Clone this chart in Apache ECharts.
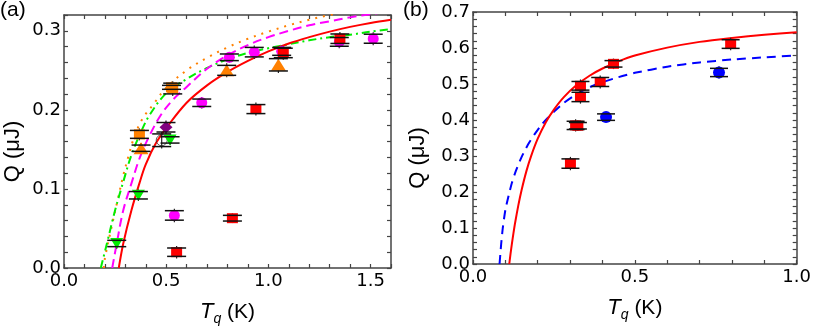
<!DOCTYPE html>
<html>
<head>
<meta charset="utf-8">
<script src="https://cdn.jsdelivr.net/npm/echarts@6/dist/echarts.min.js"></script>
<style>
html,body{margin:0;padding:0;background:#fff;}
#chart{width:814px;height:331px;}
</style>
</head>
<body>
<div id="chart"></div>
<script>
// ---------- Panel (a) data ----------
const redA_T = [1.350, 1.073, 0.939, 0.824, 0.551];
const redA_Q = [0.290, 0.272, 0.201, 0.063, 0.020];
const redA_E = [0.006, 0.006, 0.0057, 0.0036, 0.0053];

const magA_T = [1.513, 1.347, 1.065, 0.931, 0.809, 0.674, 0.540];
const magA_Q = [0.290, 0.286, 0.274, 0.273, 0.2665, 0.209, 0.0665];
const magA_E = [0.0057, 0.0055, 0.005, 0.006, 0.0042, 0.0047, 0.006];

const oTriA_T = [1.049, 0.796, 0.377];
const oTriA_Q = [0.257, 0.250, 0.1515];
const oTriA_E = [0.0078, 0.0063, 0.004];

const oSqA_T = [0.532, 0.526, 0.369];
const oSqA_Q = [0.227, 0.2285, 0.169];
const oSqA_E = [0.0068, 0.0025, 0.005];

const purA_T = [0.499];
const purA_Q = [0.178];
const purA_E = [0.006];

const openA_T = [0.478];
const openA_Q = [0.1616];
const openA_E = [0.008];

const grnA_T = [0.519, 0.364, 0.258];
const grnA_Q = [0.162, 0.092, 0.031];
const grnA_E = [0.004, 0.0047, 0.004];

// curves
const cRedA_T = [0.268, 0.29, 0.33, 0.37, 0.40, 0.45, 0.50, 0.60, 0.70, 0.80, 0.90, 1.00, 1.10, 1.20, 1.30, 1.40, 1.50, 1.60];
const cRedA_Q = [0.000, 0.031, 0.073, 0.108, 0.131, 0.158, 0.177, 0.209, 0.231, 0.248, 0.262, 0.274, 0.284, 0.292, 0.299, 0.305, 0.310, 0.314];

const cGrnA_T = [0.180, 0.21, 0.25, 0.29, 0.33, 0.38, 0.42, 0.50, 0.60, 0.70, 0.80, 0.90, 1.00, 1.10, 1.20, 1.30, 1.40, 1.50, 1.60];
const cGrnA_Q = [0.000, 0.031, 0.073, 0.109, 0.143, 0.174, 0.194, 0.221, 0.239, 0.253, 0.264, 0.272, 0.278, 0.283, 0.288, 0.292, 0.295, 0.299, 0.302];

const cOrgA_T = [0.195, 0.20, 0.233, 0.266, 0.29, 0.315, 0.34, 0.38, 0.44, 0.50, 0.60, 0.70, 0.80, 0.90, 1.00, 1.10, 1.20, 1.30, 1.40, 1.50, 1.60];
const cOrgA_Q = [0.000, 0.012, 0.052, 0.090, 0.117, 0.141, 0.163, 0.187, 0.208, 0.228, 0.250, 0.266, 0.279, 0.290, 0.299, 0.307, 0.314, 0.320, 0.325, 0.330, 0.334];

const cMagA_T = [0.236, 0.258, 0.29, 0.33, 0.37, 0.41, 0.47, 0.53, 0.60, 0.70, 0.80, 0.90, 1.00, 1.10, 1.20, 1.30, 1.40, 1.50, 1.60];
const cMagA_Q = [0.000, 0.031, 0.073, 0.107, 0.139, 0.163, 0.192, 0.212, 0.229, 0.252, 0.269, 0.282, 0.292, 0.300, 0.307, 0.312, 0.317, 0.321, 0.325];

// ---------- Panel (b) data ----------
const redB_T = [0.796, 0.434, 0.393, 0.332, 0.332, 0.317, 0.324, 0.301];
const redB_Q = [0.611, 0.556, 0.5056, 0.495, 0.464, 0.385, 0.384, 0.279];
const redB_E = [0.012, 0.009, 0.0125, 0.012, 0.013, 0.0115, 0.009, 0.013];

const bluB_T = [0.411, 0.760];
const bluB_Q = [0.408, 0.532];
const bluB_E = [0.009, 0.0115];

const cRedB_T = [0.112, 0.116, 0.120, 0.125, 0.130, 0.140, 0.150, 0.165, 0.180, 0.200, 0.225, 0.250, 0.280, 0.320, 0.360, 0.400, 0.450, 0.500, 0.600, 0.700, 0.800, 0.900, 1.000];
const cRedB_Q = [0.000, 0.029, 0.055, 0.086, 0.114, 0.163, 0.205, 0.258, 0.301, 0.348, 0.394, 0.429, 0.463, 0.497, 0.523, 0.543, 0.563, 0.579, 0.601, 0.617, 0.628, 0.637, 0.644];

const cBluB_T = [0.082, 0.087, 0.092, 0.100, 0.110, 0.120, 0.133, 0.150, 0.170, 0.190, 0.210, 0.230, 0.255, 0.280, 0.310, 0.350, 0.390, 0.450, 0.500, 0.600, 0.700, 0.800, 0.900, 1.000];
const cBluB_Q = [0.000, 0.055, 0.100, 0.150, 0.190, 0.225, 0.260, 0.297, 0.332, 0.360, 0.385, 0.405, 0.427, 0.447, 0.466, 0.487, 0.502, 0.519, 0.531, 0.548, 0.560, 0.568, 0.574, 0.579];

// ---------- helpers ----------
const zip2 = (a, b) => a.map((v, i) => [v, b[i]]);
const zip3 = (a, b, c) => a.map((v, i) => [v, b[i], c[i]]);

const tickFont = { fontFamily: 'DejaVu Sans', fontSize: 18, color: '#000' };
const axisCol = '#444';

function makeX(gi, max, pos) {
  const bottom = pos === 'bottom';
  return {
    type: 'value', gridIndex: gi, min: 0, max: max, interval: 0.1, position: pos,
    axisLine: { show: true, onZero: false, lineStyle: { color: axisCol, width: 1.5 } },
    axisTick: { show: true, inside: true, length: 4, lineStyle: { color: axisCol, width: 1.2 } },
    splitLine: { show: false },
    axisLabel: bottom ? Object.assign({
      show: true, margin: 4,
      formatter: v => (Math.abs(v * 2 - Math.round(v * 2)) < 1e-6 ? v.toFixed(1) : '')
    }, tickFont) : { show: false },
    name: bottom ? '{t|T}{s|q} (K)' : '',
    nameLocation: 'middle', nameGap: 30,
    nameTextStyle: {
      fontFamily: 'Liberation Sans', fontSize: 21, color: '#000',
      rich: {
        t: { fontFamily: 'Liberation Sans', fontSize: 22, fontStyle: 'italic', color: '#000' },
        s: { fontFamily: 'Liberation Sans', fontSize: 14, fontStyle: 'italic', color: '#000', padding: [14, 0, 0, 0] }
      }
    }
  };
}
function makeY(gi, max, pos, gap, pad) {
  const left = pos === 'left';
  return {
    type: 'value', gridIndex: gi, min: 0, max: max, interval: 0.02, position: pos,
    axisLine: { show: true, onZero: false, lineStyle: { color: axisCol, width: 1.5 } },
    axisTick: { show: true, inside: true, length: 4, lineStyle: { color: axisCol, width: 1.2 } },
    splitLine: { show: false },
    axisLabel: left ? Object.assign({
      show: true, margin: 3,
      formatter: v => (Math.abs(v * 10 - Math.round(v * 10)) < 1e-6 ? v.toFixed(1) : '')
    }, tickFont) : { show: false },
    name: left ? 'Q (μJ)' : '',
    nameLocation: 'middle', nameGap: gap, nameRotate: 90,
    nameTextStyle: { fontFamily: 'Liberation Sans', fontSize: 22, color: '#000', padding: pad }
  };
}

function errStems(xi, yi, data) {
  return {
    type: 'custom', xAxisIndex: xi, yAxisIndex: yi, z: 3, silent: true,
    data: data,
    renderItem: (params, api) => {
      const x = api.value(0), y = api.value(1), e = api.value(2);
      const p1 = api.coord([x, y + e]), p2 = api.coord([x, y - e]);
      return { type: 'line', shape: { x1: p1[0], y1: p1[1] - 2, x2: p2[0], y2: p2[1] + 2 },
        style: { stroke: '#222', lineWidth: 1.2 } };
    }
  };
}
function errCaps(xi, yi, data, hw) {
  return {
    type: 'custom', xAxisIndex: xi, yAxisIndex: yi, z: 6, silent: true,
    data: data,
    renderItem: (params, api) => {
      const x = api.value(0), y = api.value(1), e = api.value(2);
      const p1 = api.coord([x, y + e]), p2 = api.coord([x, y - e]);
      return { type: 'group', children: [
        { type: 'line', shape: { x1: p1[0] - hw, y1: p1[1], x2: p1[0] + hw, y2: p1[1] }, style: { stroke: '#111', lineWidth: 1.5 } },
        { type: 'line', shape: { x1: p2[0] - hw, y1: p2[1], x2: p2[0] + hw, y2: p2[1] }, style: { stroke: '#111', lineWidth: 1.5 } }
      ] };
    }
  };
}
function pts(xi, yi, data, symbol, size, color, rot, extra) {
  return Object.assign({
    type: 'scatter', xAxisIndex: xi, yAxisIndex: yi, z: 5, data: data,
    symbol: symbol, symbolSize: size, symbolRotate: rot || 0,
    itemStyle: { color: color, opacity: 1 }
  }, extra || {});
}
function curve(xi, yi, T, Q, color, type, sm) {
  return {
    type: 'line', xAxisIndex: xi, yAxisIndex: yi, z: 2, data: zip2(T, Q),
    smooth: sm, showSymbol: false, symbol: 'none', clip: true,
    lineStyle: { color: color, width: 2, type: type }
  };
}

const allErrA = [].concat(
  zip3(magA_T, magA_Q, magA_E), zip3(redA_T, redA_Q, redA_E),
  zip3(oTriA_T, oTriA_Q, oTriA_E), zip3(oSqA_T, oSqA_Q, oSqA_E),
  zip3(purA_T, purA_Q, purA_E), zip3(openA_T, openA_Q, openA_E),
  zip3(grnA_T, grnA_Q, grnA_E));
const allErrB = [].concat(zip3(redB_T, redB_Q, redB_E), zip3(bluB_T, bluB_Q, bluB_E));

const option = {
  animation: false,
  backgroundColor: '#fff',
  grid: [
    { left: 64, top: 15, width: 327, height: 253, containLabel: false },
    { left: 473, top: 12, width: 327, height: 252, containLabel: false }
  ],
  xAxis: [makeX(0, 1.6, 'bottom'), makeX(0, 1.6, 'top'), makeX(1, 1.0, 'bottom'), makeX(1, 1.0, 'top')],
  yAxis: [makeY(0, 0.32, 'left', 40, [0, 20, 0, 0]), makeY(0, 0.32, 'right'), makeY(1, 0.7, 'left', 44, [0, 40, 0, 0]), makeY(1, 0.7, 'right')],
  graphic: [
    { type: 'text', left: 0, top: 0, style: { text: '(a)', fontFamily: 'Liberation Sans', fontSize: 21, fill: '#000' } },
    { type: 'text', left: 403, top: 0, style: { text: '(b)', fontFamily: 'Liberation Sans', fontSize: 21, fill: '#000' } }
  ],
  series: [
    curve(0, 0, cOrgA_T, cOrgA_Q, '#ff8000', [2, 6], 0.35),
    curve(0, 0, cGrnA_T, cGrnA_Q, '#00ee00', [8, 4, 2, 4], 0.35),
    curve(0, 0, cMagA_T, cMagA_Q, '#ff00ff', [9, 5], 0.35),
    curve(0, 0, cRedA_T, cRedA_Q, '#ff0000', 'solid', 0.35),
    errStems(0, 0, allErrA),
    pts(0, 0, zip2(magA_T, magA_Q), 'circle', 11, '#ff00ff'),
    pts(0, 0, zip2(redA_T, redA_Q), 'rect', [11, 10], '#ff0000'),
    pts(0, 0, zip2(oTriA_T, oTriA_Q), 'triangle', [15, 12], '#ff8000'),
    pts(0, 0, zip2(oSqA_T, oSqA_Q), 'rect', [11, 10], '#ff8000'),
    pts(0, 0, zip2(purA_T, purA_Q), 'diamond', [13, 12], '#800080'),
    pts(0, 0, zip2(openA_T, openA_Q), 'circle', 11, 'rgba(0,0,0,0)', 0, { itemStyle: { color: 'rgba(0,0,0,0)', borderColor: '#333', borderWidth: 1 } }),
    pts(0, 0, zip2(grnA_T, grnA_Q), 'triangle', [13, 11], '#00ee00', 180),
    errCaps(0, 0, allErrA, 9.5),

    curve(2, 2, cBluB_T, cBluB_Q, '#0000ff', [9, 6], 0.2),
    curve(2, 2, cRedB_T, cRedB_Q, '#ff0000', 'solid', 0.2),
    errStems(2, 2, allErrB),
    pts(2, 2, zip2(redB_T, redB_Q), 'rect', [11, 10], '#ff0000'),
    pts(2, 2, zip2(bluB_T, bluB_Q), 'circle', 12, '#0000ff'),
    errCaps(2, 2, allErrB, 9)
  ]
};

const chart = echarts.init(document.getElementById('chart'), null, { renderer: 'canvas' });
chart.setOption(option);
</script>
</body>
</html>
